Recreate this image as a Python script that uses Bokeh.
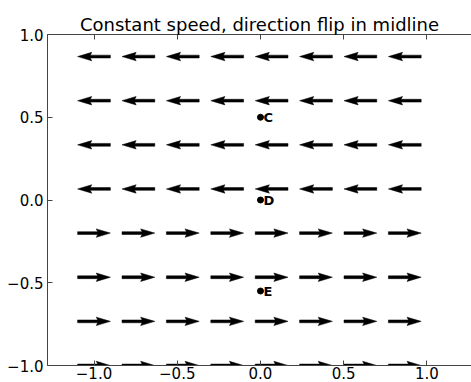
import numpy as np
from bokeh.plotting import figure
from bokeh.models import Range1d, LinearAxis, FixedTicker, ColumnDataSource, CustomJSTickFormatter
from bokeh.core.properties import value
from bokeh.embed import file_html
from bokeh.resources import INLINE

# ---- data ----
grid_x = [-1.0, -0.7333, -0.4667, -0.2, 0.0667, 0.3333, 0.6, 0.8667]
grid_y = [-1.0, -0.7333, -0.4667, -0.2, 0.0667, 0.3333, 0.6, 0.8667]
row_u = [1, 1, 1, 1, -1, -1, -1, -1]   # horizontal direction per row (bottom to top)
row_v = [0, 0, 0, 0, 0, 0, 0, 0]
point_names = ["C", "D", "E"]
point_x = [0.0, 0.0, 0.0]
point_y = [0.5, 0.0, -0.55]
x_ticks = [-1.0, -0.5, 0.0, 0.5, 1.0]
y_ticks = [-1.0, -0.5, 0.0, 0.5, 1.0]
title_text = "Constant speed, direction flip in midline"

# ---- arrow geometry (quiver-like, pivot middle) ----
L = 0.197      # arrow length in data units
w = 0.017      # shaft width in data units
p_along = np.array([0, L - 4.5 * w, L - 5 * w, L, L - 5 * w, L - 4.5 * w, 0]) - L / 2
p_perp = np.array([0.5 * w, 0.5 * w, 1.5 * w, 0, -1.5 * w, -0.5 * w, -0.5 * w])

xs, ys = [], []
for j, yv in enumerate(grid_y):
    u, v = row_u[j], row_v[j]
    ang = np.arctan2(v, u)
    c, s = np.cos(ang), np.sin(ang)
    for xv in grid_x:
        xs.append(list(xv + c * p_along - s * p_perp))
        ys.append(list(yv + s * p_along + c * p_perp))

FONT = "DejaVu Sans"
p = figure(width=471, height=382, output_backend="svg", toolbar_location=None,
           x_range=Range1d(-1.2793, 1.2673), y_range=Range1d(-1.0, 1.0),
           min_border_left=47, min_border_right=0, min_border_top=34, min_border_bottom=17,
           background_fill_color="white", border_fill_color="white")
p.outline_line_color = None
p.grid.visible = False

p.patches(xs, ys, fill_color="black", line_color="black", line_width=0.5)

src = ColumnDataSource(dict(x=point_x, y=point_y, t=point_names))
p.scatter("x", "y", source=src, size=6, fill_color="black", line_color="black")
p.text("x", "y", text="t", source=src, x_offset=3, text_baseline="middle", text_align="left",
       text_font=value(FONT), text_font_style="bold", text_font_size="13px", text_color="black")

fmt = CustomJSTickFormatter(code="return (tick < 0 ? '\u2212' : '') + Math.abs(tick).toFixed(1);")
empty = CustomJSTickFormatter(code="return '';")

def style(ax, ticks, formatter, standoff):
    ax.ticker = FixedTicker(ticks=ticks)
    ax.formatter = formatter
    ax.axis_line_color = "#444444"
    ax.axis_line_width = 1
    ax.major_tick_in = 5
    ax.major_tick_out = 0
    ax.major_tick_line_color = "#444444"
    ax.minor_tick_line_color = None
    ax.major_label_text_font = FONT
    ax.major_label_text_font_size = "15px"
    ax.major_label_text_color = "black"
    ax.major_label_standoff = standoff

style(p.xaxis[0], x_ticks, fmt, 1)
style(p.yaxis[0], y_ticks, fmt, 4)

top = LinearAxis()
style(top, x_ticks, empty, 0)
p.add_layout(top, "above")

p.title.text = title_text
p.title.align = "center"
p.title.text_font = FONT
p.title.text_font_size = "18px"
p.title.text_font_style = "normal"
p.title.text_color = "black"
p.title.standoff = 0

open("out.html", "w").write(file_html(p, INLINE))
